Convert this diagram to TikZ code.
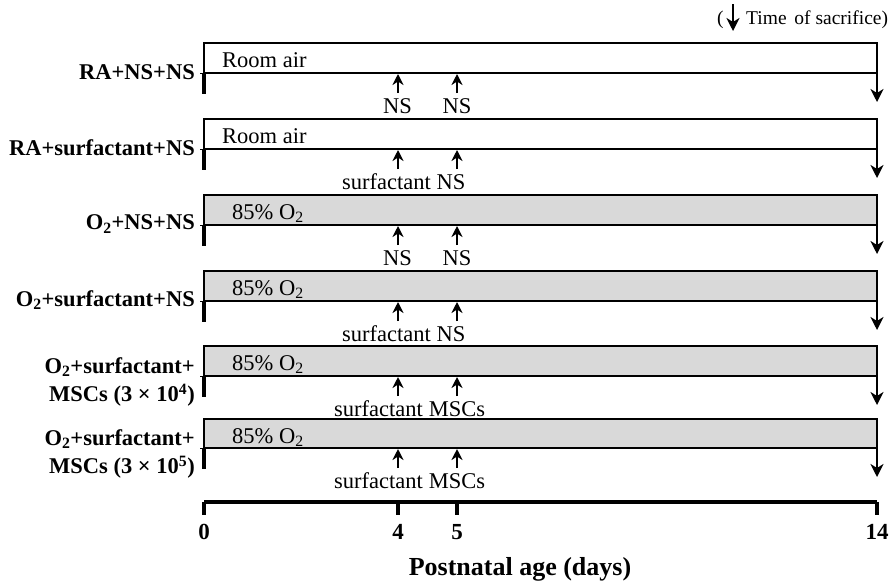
\documentclass[tikz,border=0pt]{standalone}
\usepackage{fontspec}
\setmainfont{Liberation Serif}
\usetikzlibrary{arrows.meta}
\definecolor{boxgray}{HTML}{D9D9D9}
\begin{document}
\begin{tikzpicture}[x=1pt,y=-1pt,
  boxline/.style={line width=2pt},
  legline/.style={line width=3.6pt},
  sacarrow/.style={line width=2.4pt,-{Stealth[length=13pt,width=13pt,inset=4pt]}},
  uparrow/.style={line width=2.6pt,-{Stealth[length=11pt,width=11pt,inset=3.5pt]}},
  rowlab/.style={anchor=east,align=right,inner sep=0pt,font=\fontsize{22.5}{28}\selectfont\bfseries},
  intxt/.style={anchor=base west,inner sep=0pt,font=\fontsize{22.5}{27}\selectfont},
  armtxt/.style={anchor=base,inner sep=0pt,font=\fontsize{22.5}{26}\selectfont},
  armtxtl/.style={anchor=base east,inner sep=0pt,font=\fontsize{22.5}{26}\selectfont},
  axnum/.style={anchor=base,inner sep=0pt,font=\fontsize{23}{26}\selectfont\bfseries},
  axis/.style={line width=3.4pt},
  tick/.style={line width=3.4pt}
]
\useasboundingbox (0,0) rectangle (894,582);

% rows: index / top / bottom line / filled? / inside text x / inside text / label day4 / its right end / label day5 / its centre
\foreach \i/\T/\L/\fl/\ix/\intext/\la/\lax/\lb/\lbx in {
  1/43/73/0/222/{Room air}/{NS}/412/{NS}/457,
  2/119/149/0/222/{Room air}/{surfactant}/431/{NS}/451,
  3/195/225/1/232/{85\% O\textsubscript{2}}/{NS}/412/{NS}/457,
  4/271/301/1/232/{85\% O\textsubscript{2}}/{surfactant}/431/{NS}/451,
  5/346/376/1/232/{85\% O\textsubscript{2}}/{surfactant}/423/{MSCs}/457,
  6/419/448/1/232/{85\% O\textsubscript{2}}/{surfactant}/423/{MSCs}/457} {
  \coordinate (r\i tl) at (204,\T);
  \coordinate (r\i tr) at (877,\T);
  \coordinate (r\i bl) at (204,\L);
  \coordinate (r\i br) at (877,\L);
  \coordinate (r\i leg) at (204,\L+21);
  \coordinate (r\i tk) at (200,\L);
  \coordinate (r\i end) at (877,\L+29);
  \coordinate (r\i a4) at (398,\L+20);
  \coordinate (r\i h4) at (398,\L+1);
  \coordinate (r\i a5) at (457,\L+20);
  \coordinate (r\i h5) at (457,\L+1);
  \ifnum\fl=1
    \fill[boxgray] (r\i tl) rectangle (r\i br);
  \fi
  \draw[boxline] (r\i bl) -- (r\i tl) -- (r\i tr) -- (r\i br) -- cycle;
  \draw[legline] (r\i bl) -- (r\i leg);
  \draw[line width=1pt] (r\i tk) -- (r\i bl);
  \draw[sacarrow] (r\i br) -- (r\i end);
  \draw[uparrow] (r\i a4) -- (r\i h4);
  \draw[uparrow] (r\i a5) -- (r\i h5);
  \node[intxt] (r\i in) at (\ix,\T+24) {\intext};
  \node[armtxtl] (r\i la) at (\lax,\L+40) {\la};
  \node[armtxt] (r\i lb) at (\lbx,\L+40) {\lb};
}

% row labels
\node[rowlab] (lab1) at (195,72) {RA+NS+NS};
\node[rowlab] (lab2) at (195,148) {RA+surfactant+NS};
\node[rowlab] (lab3) at (195,224) {O\textsubscript{2}+NS+NS};
\node[rowlab] (lab4) at (195,300) {O\textsubscript{2}+surfactant+NS};
\node[rowlab] (lab5) at (195,382) {O\textsubscript{2}+surfactant+\\MSCs (3 × 10\textsuperscript{4})};
\node[rowlab] (lab6) at (195,454) {O\textsubscript{2}+surfactant+\\MSCs (3 × 10\textsuperscript{5})};

% legend at top
\node[anchor=base west,inner sep=0pt,font=\fontsize{19.5}{24}\selectfont] (lpar) at (717,24) {(};
\coordinate (legtop) at (733,4);
\coordinate (legbot) at (733,31);
\draw[sacarrow] (legtop) -- (legbot);
\node[anchor=base west,inner sep=0pt,font=\fontsize{19.5}{24}\selectfont] (legtxt) at (746,24) {Time\hspace{0.4em}of sacrifice)};

% time axis
\coordinate (ax0) at (204,502);
\coordinate (ax14) at (877,502);
\draw[axis] (ax0) -- (ax14);
\foreach \n/\x in {0/204,4/398,5/457,14/877} {
  \coordinate (t\n) at (\x,502);
  \coordinate (tb\n) at (\x,515);
  \draw[tick] (t\n) -- (tb\n);
  \node[axnum] (n\n) at (\x,539) {\n};
}
\node[anchor=base,inner sep=0pt,font=\fontsize{26}{30}\selectfont\bfseries] (xtitle) at (520,575) {Postnatal age (days)};
\end{tikzpicture}
\end{document}
